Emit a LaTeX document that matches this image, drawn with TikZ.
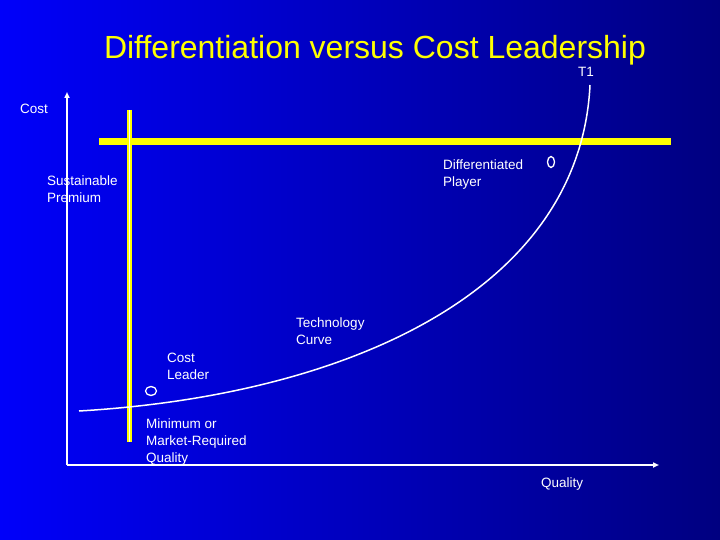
\documentclass[tikz,border=0pt]{standalone}
\usepackage{fontspec}
\setmainfont{Liberation Sans}
\usetikzlibrary{arrows.meta}
\definecolor{slideleft}{RGB}{0,0,250}
\definecolor{slideright}{RGB}{0,0,128}
\definecolor{marker}{RGB}{255,255,0}

\begin{document}
\begin{tikzpicture}[x=1pt,y=-1pt,
  lbl/.style={text=white, font=\fontsize{13.5}{17}\selectfont, align=left, inner sep=0pt, anchor=west},
  axis/.style={white, line width=1.5pt, -{Triangle[length=6pt,width=5pt]}},
  band/.style={marker, line width=7pt}]
  \shade[left color=slideleft, right color=slideright] (0,0) rectangle (720,540);
  \useasboundingbox (0,0) rectangle (720,540);

  \node[font=\fontsize{32}{38}\selectfont, text=marker, anchor=base] (title) at (375,59) {Differentiation versus Cost Leadership};

  % axes
  \coordinate (origin) at (67,465);
  \coordinate (ytop) at (67,92);
  \coordinate (xend) at (659,465);
  \draw[axis] (origin) -- (ytop);
  \draw[axis] (origin) -- (xend);
  \node[lbl] (cost) at (20,109) {Cost};
  \node[lbl] (quality) at (541,484) {Quality};

  % premium and minimum quality bands
  \coordinate (prem west) at (99,142);
  \coordinate (prem east) at (671,142);
  \coordinate (minq top) at (129.5,110);
  \coordinate (minq bottom) at (129.5,442);
  \draw[band] (prem west) -- (prem east);
  \draw[marker, line width=5.5pt] (minq top) -- (minq bottom);
  \draw[white, line width=1.8pt] (minq top) -- (minq bottom);

  % technology curve
  \coordinate (curve start) at (79,411);
  \coordinate (curve end) at (590,85);
  \draw[white, line width=1.5pt] (curve start) .. controls (350,395) and (580,290) .. (curve end);
  \node[lbl] (t1) at (578,72) {T1};

  % players
  \draw[white, line width=1.3pt] (151,391) ellipse [x radius=5.5, y radius=4.5];
  \draw[white, line width=1.3pt] (551,162) ellipse [x radius=3.5, y radius=5.5];

  \node[lbl] (premium) at (47,189.5) {Sustainable\\Premium};
  \node[lbl] (differentiated) at (443,174.5) {Differentiated\\Player};
  \node[lbl] (techcurve) at (296,331.5) {Technology\\Curve};
  \node[lbl] (leader) at (167,366.5) {Cost\\Leader};
  \node[lbl] (minimum) at (146,442) {Minimum or\\Market-Required\\Quality};
\end{tikzpicture}
\end{document}
